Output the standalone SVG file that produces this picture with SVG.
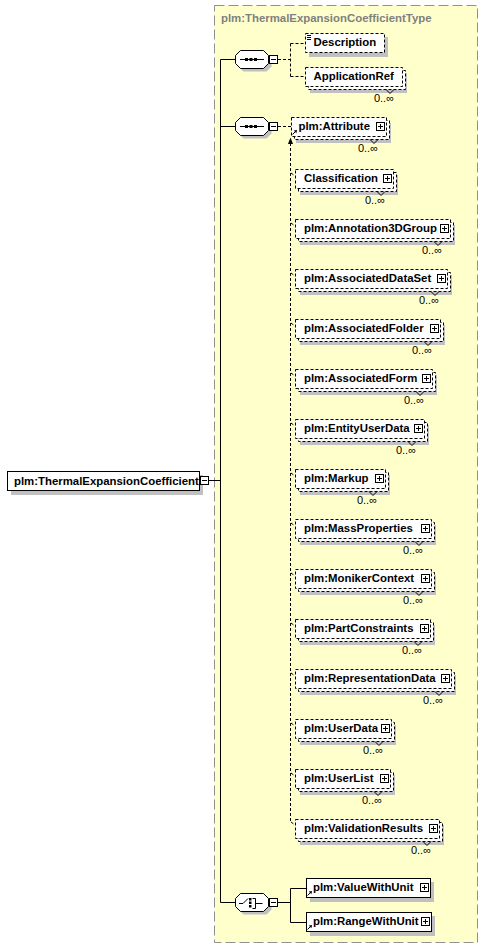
<svg xmlns="http://www.w3.org/2000/svg" xmlns:xlink="http://www.w3.org/1999/xlink" width="483" height="949" viewBox="0 0 483 949">
<style>
.bg{fill:#fff}
.box{fill:#fff;stroke:#000;stroke-width:1}
.opt{stroke-dasharray:3,2}
.sh{fill:#c0c0c0}
.t{font-family:"Liberation Sans",Arial,sans-serif;font-weight:bold;font-size:11.4px;fill:#000}
.occ{font-family:"Liberation Sans",Arial,sans-serif;font-size:11px;fill:#000}
.ln{stroke:#000;stroke-width:1;fill:none}
.dl{stroke:#000;stroke-width:1;fill:none;stroke-dasharray:3,2}
.title{font-family:"Liberation Sans",Arial,sans-serif;font-weight:bold;font-size:11.4px;fill:#808080}
</style>
<defs>
<g id="plus"><rect x="0.5" y="0.5" width="8" height="8" fill="#fff" stroke="#000"/><path d="M2,4.5h5M4.5,2v5" stroke="#000"/></g>
<g id="minus"><rect x="0.5" y="0.5" width="8" height="8" fill="#fff" stroke="#000"/><path d="M2,4.5h5" stroke="#000"/></g>
<path id="oct" d="M5,0 H28 L33,5 V13 L28,18 H5 L0,13 V5 Z"/>
<g id="refarrow"><path d="M0.5,5.5 L4,2" stroke="#000"/><polygon points="5,1 1.8,1.6 4.4,4.2" fill="#000"/></g>
</defs>
<rect x="0" y="0" width="483" height="949" class="bg"/>

<g id="container">
<rect x="214.5" y="5.5" width="263" height="937" fill="#ffffcc" stroke="#909090" stroke-dasharray="10,4"/>
<text class="title" x="221" y="22">plm:ThermalExpansionCoefficientType</text>
</g>

<g id="connectors">
<path class="ln" d="M209,480.5 H220.5 M220.5,59.5 V902.5 M220.5,59.5 H236 M220.5,126.5 H236 M220.5,902.5 H236"/>
<path class="dl" d="M278,59.5 H290.5 M290.5,43.5 V76.5 M290.5,43.5 H305 M290.5,76.5 H305"/>
<path class="dl" d="M278,126.5 H291"/>
<path class="dl" d="M290.5,143 V822 M291,173 l4,3 M291,223 l4,3 M291,273 l4,3 M291,323 l4,3 M291,373 l4,3 M291,423 l4,3 M291,473 l4,3 M291,523 l4,3 M291,573 l4,3 M291,623 l4,3 M291,673 l4,3 M291,723 l4,3 M291,773 l4,3 M291,822 l4,3"/>
<polygon points="290.5,137.5 288,144 293,144" fill="#000"/>
<path class="ln" d="M278,902.5 H290.5 M290.5,888.5 V922.5 M290.5,888.5 H306 M290.5,922.5 H306"/>
</g>

<g id="root">
<rect class="sh" x="11" y="475" width="192" height="20"/>
<rect class="box" x="7.5" y="471.5" width="192" height="19"/>
<text class="t" x="14" y="485">plm:ThermalExpansionCoefficient</text>
<use xlink:href="#minus" x="200" y="476"/>
</g>

<g id="seq1">
<use xlink:href="#oct" x="238.5" y="53.5" class="sh"/>
<use xlink:href="#oct" x="235.5" y="50.5" fill="#fff" stroke="#000"/>
<path class="ln" d="M240,59.5 H264"/>
<rect x="245" y="58" width="3" height="3"/><rect x="249.5" y="58" width="3" height="3"/><rect x="254" y="58" width="3" height="3"/>
<use xlink:href="#minus" x="269" y="55"/>
</g>

<g id="n-description">
<rect class="sh" x="309" y="37" width="79" height="20"/>
<rect class="box opt" x="305.5" y="33.5" width="79" height="19"/>
<path class="ln" d="M307,35.5 h4 M307,37.5 h4 M307,39.5 h4"/>
<text class="t" x="313.5" y="46">Description</text>
</g>

<g id="n-applicationref">
<rect class="sh" x="310" y="73" width="97" height="20"/>
<rect class="box opt" x="308.5" y="70.5" width="97" height="19"/>
<rect class="box opt" x="305.5" y="67.5" width="97" height="19"/>
<text class="t" x="313.5" y="80">ApplicationRef</text>
<path class="ln" d="M386,89.5 l4,4 l4,-4"/>
<text class="occ" x="394" y="102" text-anchor="end">0..∞</text>
</g>

<g id="seq2">
<use xlink:href="#oct" x="238.5" y="120.5" class="sh"/>
<use xlink:href="#oct" x="235.5" y="117.5" fill="#fff" stroke="#000"/>
<path class="ln" d="M240,126.5 H264"/>
<rect x="245" y="125" width="3" height="3"/><rect x="249.5" y="125" width="3" height="3"/><rect x="254" y="125" width="3" height="3"/>
<use xlink:href="#minus" x="269" y="122"/>
</g>

<g id="n-attribute">
<rect class="sh" x="296" y="123" width="95" height="20"/>
<rect class="box opt" x="294.5" y="120.5" width="95" height="19"/>
<rect class="box opt" x="291.5" y="117.5" width="95" height="19"/>
<use xlink:href="#refarrow" x="292" y="129"/>
<text class="t" x="298.5" y="130">plm:Attribute</text>
<use xlink:href="#plus" x="376" y="122"/>
<path class="ln" d="M370,139.5 l4,4 l4,-4"/>
<text class="occ" x="378" y="152" text-anchor="end">0..∞</text>
</g>

<g id="n-classification">
<rect class="sh" x="300" y="175" width="98" height="20"/>
<rect class="box opt" x="298.5" y="172.5" width="98" height="19"/>
<rect class="box opt" x="295.5" y="169.5" width="98" height="19"/>
<text class="t" x="304" y="182">Classification</text>
<use xlink:href="#plus" x="383" y="174"/>
<path class="ln" d="M377,191.5 l4,4 l4,-4"/>
<text class="occ" x="385" y="204" text-anchor="end">0..∞</text>
</g>

<g id="n-annotation3dgroup">
<rect class="sh" x="300" y="225" width="155" height="20"/>
<rect class="box opt" x="298.5" y="222.5" width="155" height="19"/>
<rect class="box opt" x="295.5" y="219.5" width="155" height="19"/>
<text class="t" x="304" y="232">plm:Annotation3DGroup</text>
<use xlink:href="#plus" x="440" y="224"/>
<path class="ln" d="M434,241.5 l4,4 l4,-4"/>
<text class="occ" x="442" y="254" text-anchor="end">0..∞</text>
</g>

<g id="n-associateddataset">
<rect class="sh" x="300" y="275" width="152" height="20"/>
<rect class="box opt" x="298.5" y="272.5" width="152" height="19"/>
<rect class="box opt" x="295.5" y="269.5" width="152" height="19"/>
<text class="t" x="304" y="282">plm:AssociatedDataSet</text>
<use xlink:href="#plus" x="437" y="274"/>
<path class="ln" d="M431,291.5 l4,4 l4,-4"/>
<text class="occ" x="439" y="304" text-anchor="end">0..∞</text>
</g>

<g id="n-associatedfolder">
<rect class="sh" x="300" y="325" width="145" height="20"/>
<rect class="box opt" x="298.5" y="322.5" width="145" height="19"/>
<rect class="box opt" x="295.5" y="319.5" width="145" height="19"/>
<text class="t" x="304" y="332">plm:AssociatedFolder</text>
<use xlink:href="#plus" x="430" y="324"/>
<path class="ln" d="M424,341.5 l4,4 l4,-4"/>
<text class="occ" x="432" y="354" text-anchor="end">0..∞</text>
</g>

<g id="n-associatedform">
<rect class="sh" x="300" y="375" width="137" height="20"/>
<rect class="box opt" x="298.5" y="372.5" width="137" height="19"/>
<rect class="box opt" x="295.5" y="369.5" width="137" height="19"/>
<text class="t" x="304" y="382">plm:AssociatedForm</text>
<use xlink:href="#plus" x="422" y="374"/>
<path class="ln" d="M416,391.5 l4,4 l4,-4"/>
<text class="occ" x="424" y="404" text-anchor="end">0..∞</text>
</g>

<g id="n-entityuserdata">
<rect class="sh" x="300" y="425" width="129" height="20"/>
<rect class="box opt" x="298.5" y="422.5" width="129" height="19"/>
<rect class="box opt" x="295.5" y="419.5" width="129" height="19"/>
<text class="t" x="304" y="432">plm:EntityUserData</text>
<use xlink:href="#plus" x="414" y="424"/>
<path class="ln" d="M408,441.5 l4,4 l4,-4"/>
<text class="occ" x="416" y="454" text-anchor="end">0..∞</text>
</g>

<g id="n-markup">
<rect class="sh" x="300" y="475" width="90" height="20"/>
<rect class="box opt" x="298.5" y="472.5" width="90" height="19"/>
<rect class="box opt" x="295.5" y="469.5" width="90" height="19"/>
<text class="t" x="304" y="482">plm:Markup</text>
<use xlink:href="#plus" x="375" y="474"/>
<path class="ln" d="M369,491.5 l4,4 l4,-4"/>
<text class="occ" x="377" y="504" text-anchor="end">0..∞</text>
</g>

<g id="n-massproperties">
<rect class="sh" x="300" y="525" width="136" height="20"/>
<rect class="box opt" x="298.5" y="522.5" width="136" height="19"/>
<rect class="box opt" x="295.5" y="519.5" width="136" height="19"/>
<text class="t" x="304" y="532">plm:MassProperties</text>
<use xlink:href="#plus" x="421" y="524"/>
<path class="ln" d="M415,541.5 l4,4 l4,-4"/>
<text class="occ" x="423" y="554" text-anchor="end">0..∞</text>
</g>

<g id="n-monikercontext">
<rect class="sh" x="300" y="575" width="136" height="20"/>
<rect class="box opt" x="298.5" y="572.5" width="136" height="19"/>
<rect class="box opt" x="295.5" y="569.5" width="136" height="19"/>
<text class="t" x="304" y="582">plm:MonikerContext</text>
<use xlink:href="#plus" x="421" y="574"/>
<path class="ln" d="M415,591.5 l4,4 l4,-4"/>
<text class="occ" x="423" y="604" text-anchor="end">0..∞</text>
</g>

<g id="n-partconstraints">
<rect class="sh" x="300" y="625" width="135" height="20"/>
<rect class="box opt" x="298.5" y="622.5" width="135" height="19"/>
<rect class="box opt" x="295.5" y="619.5" width="135" height="19"/>
<text class="t" x="304" y="632">plm:PartConstraints</text>
<use xlink:href="#plus" x="420" y="624"/>
<path class="ln" d="M414,641.5 l4,4 l4,-4"/>
<text class="occ" x="422" y="654" text-anchor="end">0..∞</text>
</g>

<g id="n-representationdata">
<rect class="sh" x="300" y="675" width="156" height="20"/>
<rect class="box opt" x="298.5" y="672.5" width="156" height="19"/>
<rect class="box opt" x="295.5" y="669.5" width="156" height="19"/>
<text class="t" x="304" y="682">plm:RepresentationData</text>
<use xlink:href="#plus" x="441" y="674"/>
<path class="ln" d="M435,691.5 l4,4 l4,-4"/>
<text class="occ" x="443" y="704" text-anchor="end">0..∞</text>
</g>

<g id="n-userdata">
<rect class="sh" x="300" y="725" width="96" height="20"/>
<rect class="box opt" x="298.5" y="722.5" width="96" height="19"/>
<rect class="box opt" x="295.5" y="719.5" width="96" height="19"/>
<text class="t" x="304" y="732">plm:UserData</text>
<use xlink:href="#plus" x="381" y="724"/>
<path class="ln" d="M375,741.5 l4,4 l4,-4"/>
<text class="occ" x="383" y="754" text-anchor="end">0..∞</text>
</g>

<g id="n-userlist">
<rect class="sh" x="300" y="775" width="95" height="20"/>
<rect class="box opt" x="298.5" y="772.5" width="95" height="19"/>
<rect class="box opt" x="295.5" y="769.5" width="95" height="19"/>
<text class="t" x="304" y="782">plm:UserList</text>
<use xlink:href="#plus" x="380" y="774"/>
<path class="ln" d="M374,791.5 l4,4 l4,-4"/>
<text class="occ" x="382" y="804" text-anchor="end">0..∞</text>
</g>

<g id="n-validationresults">
<rect class="sh" x="300" y="825" width="144" height="20"/>
<rect class="box opt" x="298.5" y="822.5" width="144" height="19"/>
<rect class="box opt" x="295.5" y="819.5" width="144" height="19"/>
<text class="t" x="304" y="832">plm:ValidationResults</text>
<use xlink:href="#plus" x="429" y="824"/>
<path class="ln" d="M423,841.5 l4,4 l4,-4"/>
<text class="occ" x="431" y="854" text-anchor="end">0..∞</text>
</g>

<g id="choice">
<use xlink:href="#oct" x="238.5" y="896.5" class="sh"/>
<use xlink:href="#oct" x="235.5" y="893.5" fill="#fff" stroke="#000"/>
<path class="ln" d="M239,903.5 h4 l5,-5"/>
<rect x="249" y="898" width="2.5" height="2.5"/><rect x="249" y="901.5" width="2.5" height="2.5"/><rect x="249" y="905" width="2.5" height="2.5"/>
<path class="ln" d="M252.5,898.5 h3 v10 h-3 M255.5,903.5 h7"/>
<use xlink:href="#minus" x="269" y="898"/>
</g>

<g id="n-valuewithunit">
<rect class="sh" x="310" y="882" width="124" height="20"/>
<rect class="box" x="306.5" y="878.5" width="124" height="19"/>
<use xlink:href="#refarrow" x="307" y="890"/>
<text class="t" x="313" y="891">plm:ValueWithUnit</text>
<use xlink:href="#plus" x="420" y="883"/>
</g>

<g id="n-rangewithunit">
<rect class="sh" x="310" y="916" width="125" height="20"/>
<rect class="box" x="306.5" y="912.5" width="125" height="19"/>
<use xlink:href="#refarrow" x="307" y="924"/>
<text class="t" x="313" y="925">plm:RangeWithUnit</text>
<use xlink:href="#plus" x="421" y="917"/>
</g>
</svg>
